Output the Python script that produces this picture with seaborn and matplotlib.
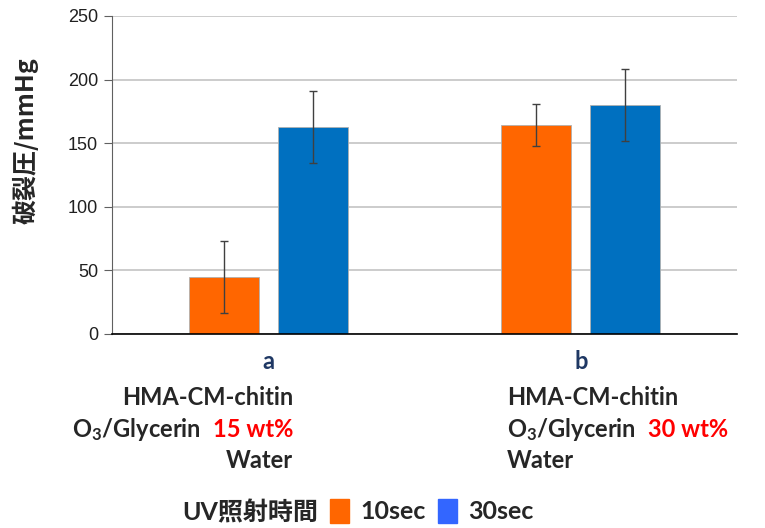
import numpy as np
import pandas as pd
import matplotlib
matplotlib.use('Agg')
import matplotlib.pyplot as plt
import matplotlib.patches as mpatches
import seaborn as sns

# data
groups = ['a', 'a', 'b', 'b']
uv_time = ['10sec', '30sec', '10sec', '30sec']
pressure = [45, 162.5, 164.5, 180]
err = [28.5, 28.3, 16.5, 28.0]
conc = ['15 wt%', '30 wt%']

df = pd.DataFrame({'group': groups, 'uv': uv_time, 'p': pressure, 'err': err})

sns.set_style('white')
plt.rcParams['font.family'] = ['Lato', 'Noto Sans CJK JP', 'DejaVu Sans']
plt.rcParams['mathtext.fontset'] = 'custom'
plt.rcParams['mathtext.rm'] = 'Lato:bold'
plt.rcParams['mathtext.default'] = 'rm'

W, H = 765, 528
fig = plt.figure(figsize=(W / 100, H / 100), dpi=100)
ax = fig.add_axes([112 / W, 1 - 334 / H, (737 - 112) / W, (334 - 16) / H])

colors = {'10sec': '#FF6600', '30sec': '#0070C0'}
sns.barplot(data=df, x='group', y='p', hue='uv', palette=colors, width=0.57, gap=0.21,
            saturation=1, errorbar=None, legend=False, ax=ax, edgecolor='#b0b0b0',
            linewidth=0.6, zorder=2)

# error bars at bar centers
bars = [p for p in ax.patches if p.get_height() > 0]
bars = sorted(bars, key=lambda b: b.get_x())
for b, e in zip(bars, df.sort_values(['group', 'uv'])['err']):
    ax.errorbar(b.get_x() + b.get_width() / 2, b.get_height(), yerr=e, fmt='none',
                ecolor='#404040', elinewidth=1, capsize=3, capthick=1, zorder=3)

ax.set_ylim(0, 250)
ax.set_yticks(range(0, 251, 50))
ax.set_xlim(-0.5, 1.5)
ax.yaxis.grid(True, color='#c4c4c4', lw=1.2, zorder=0)
ax.set_axisbelow(True)
for s in ['top', 'right']:
    ax.spines[s].set_visible(False)
ax.spines['left'].set_color('#606060')
ax.spines['bottom'].set_color('black')
ax.spines['bottom'].set_linewidth(1.2)
ax.tick_params(axis='y', left=True, length=6, color='#606060', pad=4)
ax.set_yticklabels([str(v) for v in range(0, 251, 50)], fontsize=13, color='#202020',
                   family=['Liberation Sans', 'DejaVu Sans'])
ax.tick_params(axis='x', bottom=False, pad=8)
ax.set_xticks([0, 1])
ax.set_xticklabels(['a', 'b'], fontsize=17, fontweight='bold', color='#1F3864')
ax.set_xlabel('')
ax.set_ylabel('破裂圧/mmHg', fontsize=18, fontweight='bold',
              family=['Noto Sans CJK JP', 'DejaVu Sans'])
ax.yaxis.set_label_coords(-0.138, 0.607)
ax.yaxis.label.set_va('center')

# sample description text under each group
fs = 17
def fy(y):
    return 1 - y / H

rend = fig.canvas.get_renderer()

xa = 293 / W
fig.text(xa, fy(405), 'HMA-CM-chitin', ha='right', va='baseline', fontsize=fs, fontweight='bold')
ra = fig.text(xa, fy(437), conc[0], ha='right', va='baseline', fontsize=fs, fontweight='bold', color='red')
wa = ra.get_window_extent(rend).width
fig.text(xa - (wa + 12) / W, fy(437), 'O$_3$/Glycerin', ha='right', va='baseline',
         fontsize=fs, fontweight='bold')
fig.text(xa, fy(468), 'Water', ha='right', va='baseline', fontsize=fs, fontweight='bold')

xb = 507 / W
fig.text(xb, fy(405), 'HMA-CM-chitin', ha='left', va='baseline', fontsize=fs, fontweight='bold')
gb = fig.text(xb, fy(437), 'O$_3$/Glycerin', ha='left', va='baseline', fontsize=fs, fontweight='bold')
wb = gb.get_window_extent(rend).width
fig.text(xb + (wb + 12) / W, fy(437), conc[1], ha='left', va='baseline', fontsize=fs,
         fontweight='bold', color='red')
fig.text(xb, fy(468), 'Water', ha='left', va='baseline', fontsize=fs, fontweight='bold')

# legend
fig.text(182 / W, fy(520), 'UV照射時間', ha='left', va='baseline', fontsize=18, fontweight='bold',
         family=['Lato', 'Noto Sans CJK JP'])
handles = [mpatches.Patch(color='#FF6600', label='10sec'),
           mpatches.Patch(color='#3366FF', label='30sec')]
fig.legend(handles=handles, loc='center left', bbox_to_anchor=(330 / W, fy(511)), ncol=2,
           frameon=False, prop={'size': 18, 'weight': 'bold'}, handlelength=0.75, handleheight=1.1,
           handletextpad=0.45, columnspacing=0.5, borderaxespad=0, borderpad=0)

fig.savefig('out.png', dpi=100)
